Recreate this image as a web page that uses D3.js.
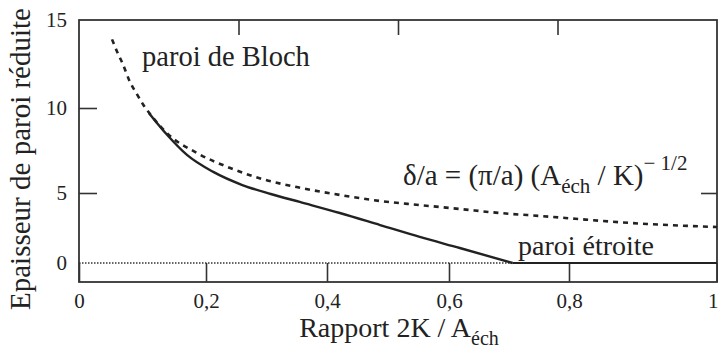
<!DOCTYPE html>
<html><head><meta charset="utf-8">
<script src="https://cdn.jsdelivr.net/npm/d3@7"></script>
<style>
body{margin:0;background:#fff}
svg{display:block}
text{font-family:"Liberation Serif","Times New Roman",serif;fill:#222}
</style>
</head><body>
<svg id="c" width="718" height="356"></svg>
<script>
// ---- data ----
const xTicks = [0, 0.2, 0.4, 0.6, 0.8, 1];
const xTickLabels = ["0", "0,2", "0,4", "0,6", "0,8", "1"];
const yTicks = [0, 5, 10, 15];
const yTickLabels = ["0", "5", "10", "15"];
const topTicks = [0.25, 0.5, 0.75];
const rightTicks = [5];

// Bloch wall law (dashed)
const blochX = [0.052, 0.060, 0.069, 0.080, 0.091, 0.101, 0.115, 0.139, 0.186, 0.240, 0.293, 0.350, 0.421, 0.487, 0.552, 0.618, 0.685, 0.751, 0.905, 1.0];
const blochY = [13.9, 13.2, 12.5, 11.5, 10.8, 10.2, 9.5, 8.5, 7.35, 6.47, 5.82, 5.35, 4.86, 4.43, 4.14, 3.86, 3.57, 3.36, 2.79, 2.57];

// Computed wall width (solid), decreasing part
const wallX = [0.110, 0.139, 0.170, 0.212, 0.260, 0.307, 0.355, 0.421, 0.487, 0.552, 0.618, 0.706];
const wallY = [9.71, 8.41, 7.24, 6.24, 5.47, 4.93, 4.36, 3.57, 2.71, 1.86, 1.07, 0];

// narrow wall regime (solid, flat)
const narrowX = [0.706, 1.0];
const narrowY = [0, 0];

// zero reference (dotted)
const zeroX = [0, 0.706];
const zeroY = [0, 0];

// ---- layout ----
const svg = d3.select("#c");
const frame = {left: 79, right: 717, top: 20, bottom: 282};
const x = d3.scaleLinear().domain(xTicks).range([79, 206, 327, 449, 569, 717]);
const y = d3.scaleLinear().domain(yTicks).range([263, 193, 108, 20]);
const xTop = d3.scaleLinear().domain([0, 1]).range([frame.left, frame.right]);
const ink = "#222";

// frame
svg.append("rect")
  .attr("x", frame.left).attr("y", frame.top)
  .attr("width", frame.right - frame.left).attr("height", frame.bottom - frame.top)
  .attr("fill", "none").attr("stroke", "#333").attr("stroke-width", 1.8);

// bottom axis
const gx = svg.append("g").attr("transform", `translate(0,${frame.bottom})`)
  .call(d3.axisBottom(x).tickValues(xTicks).tickFormat((d, i) => xTickLabels[i])
    .tickSizeInner(-19).tickSizeOuter(0).tickPadding(11));
gx.select(".domain").remove();
gx.selectAll("line").attr("stroke", "#333").attr("stroke-width", 1.6);
gx.selectAll("text").style("font-size", "21px").attr("fill", ink);
gx.selectAll(".tick").filter(d => d === 1).select("text")
  .attr("text-anchor", "end").attr("x", 1);

// left axis
const gy = svg.append("g").attr("transform", `translate(${frame.left},0)`)
  .call(d3.axisLeft(y).tickValues(yTicks).tickFormat((d, i) => yTickLabels[i])
    .tickSizeInner(-18).tickSizeOuter(0).tickPadding(12));
gy.select(".domain").remove();
gy.selectAll(".tick").filter(d => d === 0 || d === 15).select("line").remove();
gy.selectAll("line").attr("stroke", "#333").attr("stroke-width", 1.6);
gy.selectAll("text").style("font-size", "21px").attr("fill", ink);

// top ticks
const gt = svg.append("g").attr("transform", `translate(0,${frame.top})`)
  .call(d3.axisTop(xTop).tickValues(topTicks).tickFormat("").tickSizeInner(-15).tickSizeOuter(0));
gt.select(".domain").remove();
gt.selectAll("line").attr("stroke", "#333").attr("stroke-width", 1.6);

// right ticks
const gr = svg.append("g").attr("transform", `translate(${frame.right},0)`)
  .call(d3.axisRight(y).tickValues(rightTicks).tickFormat("").tickSizeInner(-16).tickSizeOuter(0));
gr.select(".domain").remove();
gr.selectAll("line").attr("stroke", "#333").attr("stroke-width", 1.6);

// lines
const line = d3.line().x(d => x(d[0])).y(d => y(d[1])).curve(d3.curveMonotoneX);
const straight = d3.line().x(d => x(d[0])).y(d => y(d[1]));

svg.append("path").datum(d3.zip(zeroX, zeroY))
  .attr("d", straight)
  .attr("fill", "none").attr("stroke", "#333").attr("stroke-width", 1.5)
  .attr("stroke-dasharray", "1.5,1.5");

svg.append("path").datum(d3.zip(blochX, blochY))
  .attr("d", line)
  .attr("fill", "none").attr("stroke", ink).attr("stroke-width", 2.6)
  .attr("stroke-dasharray", "5,5");

svg.append("path").datum(d3.zip(wallX, wallY))
  .attr("d", line)
  .attr("fill", "none").attr("stroke", ink).attr("stroke-width", 2.4);

svg.append("path").datum(d3.zip(narrowX, narrowY))
  .attr("d", straight)
  .attr("fill", "none").attr("stroke", ink).attr("stroke-width", 2);

// annotations
svg.append("text").attr("x", 142).attr("y", 66).style("font-size", "28.5px").text("paroi de Bloch");
svg.append("text").attr("x", 518).attr("y", 255).style("font-size", "28px").text("paroi étroite");

const f = svg.append("text").attr("x", 403).attr("y", 185).style("font-size", "29px");
f.append("tspan").text("δ/a = (π/a) (A");
f.append("tspan").attr("dy", 8).style("font-size", "21px").text("éch");
f.append("tspan").attr("dy", -8).text(" / K)");
f.append("tspan").attr("dy", -15).style("font-size", "21px").text("− 1/2");

// axis titles
svg.append("text")
  .attr("transform", "translate(30,159) rotate(-90)")
  .attr("text-anchor", "middle").style("font-size", "29px")
  .text("Epaisseur de paroi réduite");

const xt = svg.append("text").attr("x", 399).attr("y", 337)
  .attr("text-anchor", "middle").style("font-size", "28px");
xt.append("tspan").text("Rapport 2K / A");
xt.append("tspan").attr("dy", 8).style("font-size", "20px").text("éch");
</script>
</body></html>
